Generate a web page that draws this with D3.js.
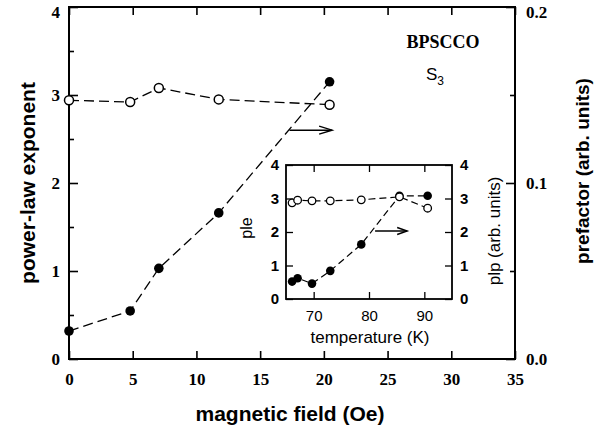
<!DOCTYPE html>
<html>
<head>
<meta charset="utf-8">
<script src="https://cdn.jsdelivr.net/npm/d3@7"></script>
<style>
  html, body { margin: 0; padding: 0; background: #fff; }
  svg { display: block; }
</style>
</head>
<body>
<svg id="chart" width="600" height="435"></svg>
<script>
// ---- main panel data ----
const fieldOe   = [0, 4.8, 7.05, 11.75, 20.45];
const exponent  = [2.94, 2.92, 3.08, 2.95, 2.89];       // open circles, left axis
const prefactor = [0.0159, 0.0273, 0.0515, 0.083, 0.1575]; // filled circles, right axis
const xTicksMain = [0, 5, 10, 15, 20, 25, 30, 35];
const yTicksLeft = [0, 1, 2, 3, 4];
const yTicksRight = [0.0, 0.1, 0.2];

// ---- inset data ----
const tempK = [66.1, 67.1, 69.7, 73.0, 78.6, 85.5, 90.6];
const ple   = [2.87, 2.95, 2.93, 2.93, 2.96, 3.05, 2.71];   // open circles
const plp   = [0.52, 0.62, 0.46, 0.84, 1.63, 3.08, 3.08];   // filled circles
const xTicksInset = [70, 80, 90];
const yTicksInset = [0, 1, 2, 3, 4];

// arrow annotations (data coords)
const mainArrow  = {x0: 17.3, x1: 20.65, y: 2.6};
const insetArrow = {x0: 81.1, x1: 86.9, y: 2.03};

const svg = d3.select("#chart");
const serif = "'Liberation Serif', 'Times New Roman', serif";
const sans  = "'Liberation Sans', Arial, Helvetica, sans-serif";

// ---------- main scales ----------
const x  = d3.scaleLinear().domain([0, 35]).range([69, 515]);
const yL = d3.scaleLinear().domain([0, 4]).range([359, 7]);
const yR = d3.scaleLinear().domain([0, 0.2]).range([359, 7]);

const main = svg.append("g");

// bottom axis
main.append("g").attr("transform", `translate(0,${yL(0)})`)
  .call(d3.axisBottom(x).tickValues(xTicksMain).tickSize(-8).tickPadding(14).tickFormat(d3.format("d")));
// top ticks
main.append("g").attr("transform", `translate(0,${yL(4)})`)
  .call(d3.axisTop(x).tickValues(xTicksMain).tickSize(-8).tickFormat(""));
// left axis
main.append("g").attr("class", "yl").attr("transform", `translate(${x(0)},0)`)
  .call(d3.axisLeft(yL).tickValues(yTicksLeft).tickSize(-9).tickPadding(9).tickFormat(d3.format("d")));
// left minor ticks
main.append("g").attr("transform", `translate(${x(0)},0)`)
  .call(d3.axisLeft(yL).tickValues([0.5, 1.5, 2.5, 3.5]).tickSize(-5).tickFormat(""));
// right axis
main.append("g").attr("class", "yr").attr("transform", `translate(${x(35)},0)`)
  .call(d3.axisRight(yR).tickValues(yTicksRight).tickSize(-9).tickPadding(11).tickFormat(d3.format(".1f")));
main.append("g").attr("transform", `translate(${x(35)},0)`)
  .call(d3.axisRight(yR).tickValues([0.05, 0.15]).tickSize(-5).tickFormat(""));

main.selectAll(".domain").remove();
main.selectAll(".tick line").attr("stroke", "#000").attr("stroke-width", 1.6);
main.selectAll(".tick text")
  .attr("font-family", serif).attr("font-weight", "bold").attr("font-size", 17).attr("fill", "#000");
// keep the top-most labels inside the picture
main.selectAll(".yl .tick text").filter(d => d === 4).attr("dy", "0.6em");
main.selectAll(".yr .tick text").filter(d => d === 0.2).attr("dy", "0.6em");

// frame
main.append("rect")
  .attr("x", x(0)).attr("y", yL(4))
  .attr("width", x(35) - x(0)).attr("height", yL(0) - yL(4))
  .attr("fill", "none").attr("stroke", "#000").attr("stroke-width", 2);

// filled series (prefactor)
const lineF = d3.line().x((d, i) => x(fieldOe[i])).y(d => yR(d));
main.append("path").datum(prefactor).attr("d", lineF)
  .attr("fill", "none").attr("stroke", "#000").attr("stroke-width", 1.3)
  .attr("stroke-dasharray", "10,5");
// open series (exponent)
const lineO = d3.line().x((d, i) => x(fieldOe[i])).y(d => yL(d));
main.append("path").datum(exponent).attr("d", lineO)
  .attr("fill", "none").attr("stroke", "#000").attr("stroke-width", 1.3)
  .attr("stroke-dasharray", "10,5");

main.selectAll("circle.f").data(prefactor).join("circle").attr("class", "f")
  .attr("cx", (d, i) => x(fieldOe[i])).attr("cy", d => yR(d)).attr("r", 4.8)
  .attr("fill", "#000");
main.selectAll("circle.o").data(exponent).join("circle").attr("class", "o")
  .attr("cx", (d, i) => x(fieldOe[i])).attr("cy", d => yL(d)).attr("r", 4.5)
  .attr("fill", "#fff").attr("stroke", "#000").attr("stroke-width", 1.5);

function arrow(g, x0, x1, yy, head, half) {
  g.append("line").attr("x1", x0).attr("x2", x1).attr("y1", yy).attr("y2", yy)
    .attr("stroke", "#000").attr("stroke-width", 1.4);
  g.append("path").attr("d", `M${x1 - head},${yy - half}L${x1},${yy}L${x1 - head},${yy + half}`)
    .attr("fill", "none").attr("stroke", "#000").attr("stroke-width", 1.4);
}
arrow(main, x(mainArrow.x0), x(mainArrow.x1), yL(mainArrow.y), 13, 4);

// titles
main.append("text").attr("transform", `translate(28,183) rotate(-90)`)
  .attr("text-anchor", "middle").attr("dy", "0.35em")
  .attr("font-family", sans).attr("font-weight", "bold").attr("font-size", 21)
  .text("power-law exponent");
main.append("text").attr("x", 290).attr("y", 421)
  .attr("text-anchor", "middle")
  .attr("font-family", sans).attr("font-weight", "bold").attr("font-size", 21)
  .text("magnetic field (Oe)");
main.append("text").attr("transform", `translate(582,171) rotate(-90)`)
  .attr("text-anchor", "middle").attr("dy", "0.35em")
  .attr("font-family", sans).attr("font-weight", "bold").attr("font-size", 19)
  .text("prefactor (arb. units)");

main.append("text").attr("x", 443).attr("y", 48).attr("text-anchor", "middle")
  .attr("font-family", serif).attr("font-weight", "bold").attr("font-size", 18)
  .text("BPSCCO");
const s3 = main.append("text").attr("x", 426).attr("y", 80)
  .attr("font-family", sans).attr("font-size", 17);
s3.append("tspan").text("S");
s3.append("tspan").attr("dy", 5).attr("font-size", 12).text("3");

// ---------- inset ----------
const xi = d3.scaleLinear().domain([65, 95]).range([286, 452]);
const yi = d3.scaleLinear().domain([0, 4]).range([299, 165]);
const ins = svg.append("g");

ins.append("rect").attr("x", xi(65)).attr("y", yi(4))
  .attr("width", xi(95) - xi(65)).attr("height", yi(0) - yi(4))
  .attr("fill", "#fff");

ins.append("g").attr("transform", `translate(0,${yi(0)})`)
  .call(d3.axisBottom(xi).tickValues(xTicksInset).tickSize(-7).tickPadding(11).tickFormat(d3.format("d")))
  .selectAll("text").attr("font-family", sans).attr("font-size", 15);
ins.append("g").attr("transform", `translate(0,${yi(4)})`)
  .call(d3.axisTop(xi).tickValues(xTicksInset).tickSize(-7).tickFormat(""));
ins.append("g").attr("transform", `translate(${xi(65)},0)`)
  .call(d3.axisLeft(yi).tickValues(yTicksInset).tickSize(-7).tickPadding(7).tickFormat(d3.format("d")))
  .selectAll("text").attr("font-family", sans).attr("font-weight", "bold").attr("font-size", 15);
ins.append("g").attr("transform", `translate(${xi(95)},0)`)
  .call(d3.axisRight(yi).tickValues(yTicksInset).tickSize(-7).tickPadding(8).tickFormat(d3.format("d")))
  .selectAll("text").attr("font-family", sans).attr("font-weight", "bold").attr("font-size", 15);
ins.selectAll(".domain").remove();
ins.selectAll(".tick line").attr("stroke", "#000").attr("stroke-width", 1.3);
ins.selectAll(".tick text").attr("fill", "#000");

ins.append("rect").attr("x", xi(65)).attr("y", yi(4))
  .attr("width", xi(95) - xi(65)).attr("height", yi(0) - yi(4))
  .attr("fill", "none").attr("stroke", "#000").attr("stroke-width", 1.8);

const lineI = d3.line().x((d, i) => xi(tempK[i])).y(d => yi(d));
ins.append("path").datum(plp).attr("d", lineI)
  .attr("fill", "none").attr("stroke", "#000").attr("stroke-width", 1.2)
  .attr("stroke-dasharray", "7,4");
ins.append("path").datum(ple).attr("d", lineI)
  .attr("fill", "none").attr("stroke", "#000").attr("stroke-width", 1.2)
  .attr("stroke-dasharray", "7,4");
ins.selectAll("circle.f").data(plp).join("circle").attr("class", "f")
  .attr("cx", (d, i) => xi(tempK[i])).attr("cy", d => yi(d)).attr("r", 4.3)
  .attr("fill", "#000");
ins.selectAll("circle.o").data(ple).join("circle").attr("class", "o")
  .attr("cx", (d, i) => xi(tempK[i])).attr("cy", d => yi(d)).attr("r", 3.8)
  .attr("fill", "#fff").attr("stroke", "#000").attr("stroke-width", 1.3);

arrow(ins, xi(insetArrow.x0), xi(insetArrow.x1), yi(insetArrow.y), 10, 3.5);

ins.append("text").attr("x", 370).attr("y", 343).attr("text-anchor", "middle")
  .attr("font-family", sans).attr("font-size", 17).text("temperature (K)");
ins.append("text").attr("transform", `translate(246,228) rotate(-90)`)
  .attr("text-anchor", "middle").attr("dy", "0.35em")
  .attr("font-family", sans).attr("font-size", 16).text("ple");
ins.append("text").attr("transform", `translate(494,231) rotate(-90)`)
  .attr("text-anchor", "middle").attr("dy", "0.35em")
  .attr("font-family", sans).attr("font-size", 17).text("plp (arb. units)");
</script>
</body>
</html>
